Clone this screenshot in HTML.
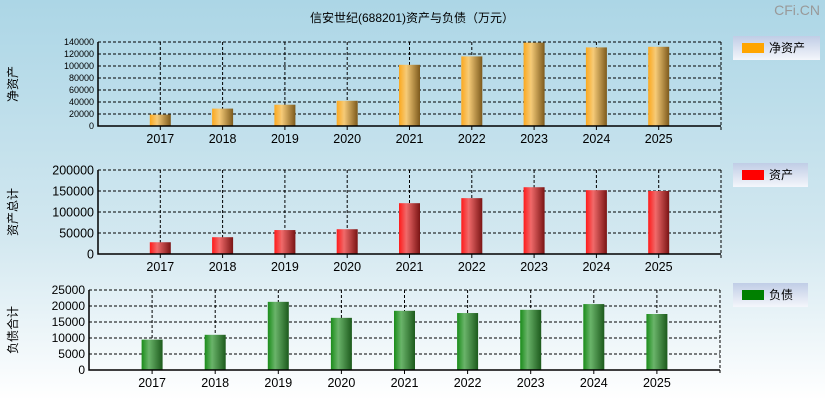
<!DOCTYPE html>
<html><head><meta charset="utf-8"><style>
body{margin:0;width:825px;height:400px;overflow:hidden;font-family:"Liberation Sans","Noto Sans CJK SC",sans-serif}
</style></head><body>
<svg id="c" width="825" height="400" xmlns="http://www.w3.org/2000/svg">
<defs>
<linearGradient id="bg" x1="0" y1="0" x2="0" y2="1"><stop offset="0" stop-color="#acd6e6"/><stop offset="0.6" stop-color="#d3e8f0"/><stop offset="1" stop-color="#ffffff"/></linearGradient>
<linearGradient id="go" x1="0" x2="1"><stop offset="0" stop-color="#fba81e"/><stop offset="0.35" stop-color="#f6cb78"/><stop offset="1" stop-color="#7d5a1c"/></linearGradient>
<linearGradient id="gr" x1="0" x2="1"><stop offset="0" stop-color="#ff1a1a"/><stop offset="0.35" stop-color="#f06a6a"/><stop offset="1" stop-color="#7a1414"/></linearGradient>
<linearGradient id="gg" x1="0" x2="1"><stop offset="0" stop-color="#1a8c1a"/><stop offset="0.35" stop-color="#6ab46a"/><stop offset="1" stop-color="#1c5a1c"/></linearGradient>
<linearGradient id="lg" x1="0" y1="0" x2="0" y2="1"><stop offset="0" stop-color="#c0cde6"/><stop offset="1" stop-color="#f4f6fb"/></linearGradient>
</defs>
<rect width="825" height="400" fill="url(#bg)"/>
<text x="412" y="22" font-size="12" text-anchor="middle">信安世纪(688201)资产与负债（万元）</text>
<text x="820" y="15" font-size="14" text-anchor="end" fill="#999">CFi.CN</text>
</svg>
<script>
const years=["2017","2018","2019","2020","2021","2022","2023","2024","2025"];
const netAssets=[19000,29000,35500,42000,102000,116000,139000,131000,132000];
const totalAssets=[28000,40000,57000,59000,121000,133000,159000,152000,150000];
const totalLiab=[9500,11000,21300,16300,18500,17800,18800,20600,17500];
const ticks1=[0,20000,40000,60000,80000,100000,120000,140000];
const ticks2=[0,50000,100000,150000,200000];
const ticks3=[0,5000,10000,15000,20000,25000];
const svg=document.getElementById('c');
const NS="http://www.w3.org/2000/svg";
function el(t,a,txt){const e=document.createElementNS(NS,t);for(const k in a)e.setAttribute(k,a[k]);if(txt!=null)e.textContent=txt;svg.appendChild(e);return e;}
function panel(p){
  const {x0,x1,y0,y1,vals,ticks,max,fill,tfs,ytitle,ycx,legend,lcol,ly,lw,name}=p;
  const step=(x1-x0)/10;
  const xs=i=>x0+step*(i+1);
  const ys=v=>y1-(v/max)*(y1-y0);
  ticks.forEach(t=>{
    const y=ys(t);
    if(t>0){const g=el('line',{x1:x0,x2:x1,y1:y,y2:y,stroke:'#000','stroke-dasharray':'3,2','stroke-width':1});
    
    }
    const l=el('text',{x:x0-4,y:y+tfs*0.35,'font-size':tfs,'text-anchor':'end'},t);
    
    
  });
  years.forEach((yr,i)=>{
    const x=xs(i);
    const g=el('line',{x1:x,x2:x,y1:y0,y2:y1,stroke:'#000','stroke-dasharray':'3,2'});
    
    
    const b=el('rect',{x:x-10.5,y:ys(vals[i]),width:21,height:y1-ys(vals[i]),fill:fill});
    
    
    const t=el('line',{x1:x,x2:x,y1:y1,y2:y1+4,stroke:'#000'});
    
    
    const l=el('text',{x:x,y:y1+17,'font-size':12.5,'text-anchor':'middle'},yr);
    
    
  });
  const r=el('line',{x1:x1,x2:x1,y1:y0,y2:y1+4,stroke:'#000','stroke-dasharray':'3,2'});
  
  
  const ax=el('path',{d:`M${x0} ${y0}V${y1}H${x1}`,stroke:'#000','stroke-width':1.5,fill:'none'});
  
  
  const yt=el('text',{x:0,y:0,'font-size':12,'text-anchor':'middle',transform:`translate(17,${ycx}) rotate(-90)`},ytitle);
  
  
  const lb=el('rect',{x:733,y:ly,width:lw,height:24,fill:'url(#lg)'});
  
  
  const ls=el('rect',{x:742,y:ly+7,width:22,height:10,fill:lcol});
  
  
  const lt=el('text',{x:769,y:ly+16,'font-size':12},legend);
  
  
}
panel({name:'net-assets',x0:98,x1:721,y0:42,y1:126,vals:netAssets,ticks:ticks1,max:140000,fill:'url(#go)',tfs:9,ytitle:'净资产',ycx:84,legend:'净资产',lcol:'#ffa500',ly:36,lw:87});
panel({name:'total-assets',x0:98,x1:721,y0:170,y1:254,vals:totalAssets,ticks:ticks2,max:200000,fill:'url(#gr)',tfs:12.5,ytitle:'资产总计',ycx:212,legend:'资产',lcol:'#ff0000',ly:163,lw:75});
panel({name:'liabilities',x0:89,x1:720,y0:290,y1:370,vals:totalLiab,ticks:ticks3,max:25000,fill:'url(#gg)',tfs:12,ytitle:'负债合计',ycx:330,legend:'负债',lcol:'#008000',ly:283,lw:75});
</script>
</body></html>
